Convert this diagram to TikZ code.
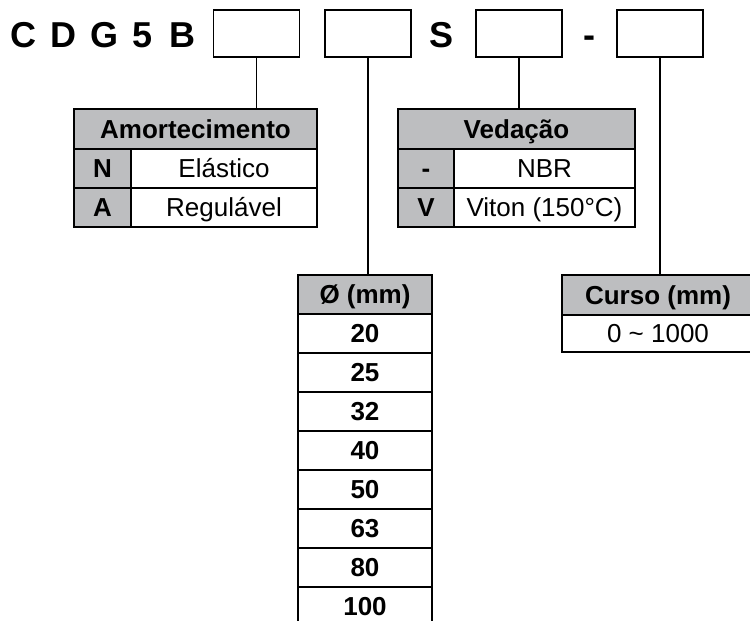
\documentclass[tikz,border=0pt]{standalone}
\usepackage{fontspec}
\setmainfont{Liberation Sans}
\usetikzlibrary{positioning}

\definecolor{cellgray}{RGB}{189,190,192}

\tikzset{
  cell/.style={draw, line width=1.7pt, inner sep=0pt, outer sep=0pt,
    minimum height=39pt, text height=18.6pt, text depth=0pt,
    font=\fontsize{26}{30}\selectfont},
  headcell/.style={cell, fill=cellgray, font=\fontsize{26}{30}\selectfont\bfseries},
  slot/.style={draw, line width=1.8pt, minimum width=86pt, minimum height=47pt, inner sep=0pt},
  codechar/.style={font=\fontsize{36}{40}\selectfont\bfseries, inner sep=0pt, anchor=base},
  link/.style={line width=1.5pt}
}

\begin{document}
\begin{tikzpicture}[x=1pt, y=-1pt]
  \useasboundingbox (0,0) rectangle (750,621);

  % model code
  \foreach \ch/\xx [count=\i] in {C/23, D/63, G/105, 5/143, B/182}{
    \node[codechar] (c\i) at (\xx,47) {\ch};
  }
  \node[codechar] (cs) at (442,47) {S};
  \node[codechar] (cdash) at (589,47) {-};

  \node[slot] (s1) at (256.5,33.5) {};
  \node[slot] (s2) at (368,33.5) {};
  \node[slot] (s3) at (519,33.5) {};
  \node[slot] (s4) at (660,33.5) {};

  % Amortecimento
  \node[headcell, minimum width=243pt, minimum height=40pt] (amort) at (195.5,129) {Amortecimento};
  \node[headcell, minimum width=57pt, anchor=north west] (amN) at (amort.south west) {N};
  \node[cell, minimum width=186pt, right=0pt of amN] (amNv) {Elástico};
  \node[headcell, minimum width=57pt, below=0pt of amN] (amA) {A};
  \node[cell, minimum width=186pt, right=0pt of amA] (amAv) {Regulável};

  % Vedacao
  \node[headcell, minimum width=237pt, minimum height=40pt] (veda) at (516.5,129) {Vedação};
  \node[headcell, minimum width=56pt, anchor=north west] (veD) at (veda.south west) {-};
  \node[cell, minimum width=181pt, right=0pt of veD] (veDv) {NBR};
  \node[headcell, minimum width=56pt, below=0pt of veD] (veV) {V};
  \node[cell, minimum width=181pt, right=0pt of veV] (veVv) {Viton (150°C)};

  % diametro
  \node[headcell, minimum width=134pt] (d0) at (365,294.5) {Ø (mm)};
  \foreach \d [count=\i, remember=\i as \p (initially 0)] in {20,25,32,40,50,63,80,100}{
    \node[cell, minimum width=134pt, below=0pt of d\p, font=\fontsize{26}{30}\selectfont\bfseries] (d\i) {\d};
  }

  % curso
  \node[headcell, minimum width=192pt, minimum height=40pt] (curso) at (658,295) {Curso (mm)};
  \node[cell, minimum width=192pt, minimum height=37pt, below=0pt of curso] (cursov) {0 \textasciitilde{} 1000};

  \draw[link] (s1.south) -- (s1.south |- amort.north);
  \draw[link] (s2.south) -- (s2.south |- d0.north);
  \draw[link] (s3.south) -- (s3.south |- veda.north);
  \draw[link] (s4.south) -- (s4.south |- curso.north);
\end{tikzpicture}
\end{document}
